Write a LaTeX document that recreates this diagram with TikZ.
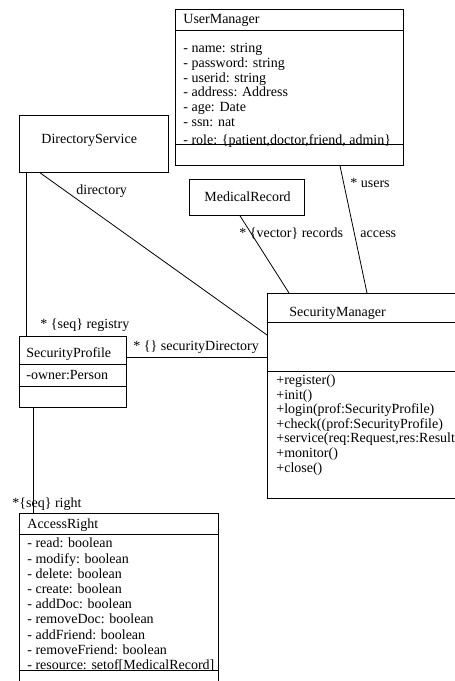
\documentclass[tikz,border=0pt]{standalone}
\usepackage{fontspec}
\setmainfont{Liberation Serif}
\usetikzlibrary{positioning}

\begin{document}
\begin{tikzpicture}[
x=1pt, y=-1pt, line width=0.8pt,
classbox/.style={rectangle, draw, inner sep=0pt, anchor=north west},
txt/.style={inner sep=0pt, anchor=base west, font=\fontsize{14}{14}\selectfont},
attr/.style={inner sep=0pt, anchor=north west, text height=10pt, text depth=#1, font=\fontsize{14}{14}\selectfont},
attr/.default=4pt,
nextline/.style={below=0pt of #1.south west, anchor=north west},
]
\clip (0,0) rectangle (455,681);

%Classes
\node[classbox, minimum width=228pt, minimum height=156pt] (um) at (175,9) {};
\node[classbox, minimum width=149pt, minimum height=57pt]  (ds) at (19,115) {};
\node[classbox, minimum width=115pt, minimum height=36pt]  (mr) at (189,179) {};
\node[classbox, minimum width=205pt, minimum height=205pt] (sm) at (267,293) {};
\node[classbox, minimum width=107pt, minimum height=71pt]  (sp) at (19,336) {};
\node[classbox, minimum width=199pt, minimum height=190pt] (ar) at (19,513) {};

%Compartments
\draw ([yshift=-21pt]um.north west) -- ([yshift=-21pt]um.north east);
\draw ([yshift=-135pt]um.north west) -- ([yshift=-135pt]um.north east);
\draw ([yshift=-29pt]sm.north west) -- ([yshift=-29pt]sm.north east);
\draw ([yshift=-78pt]sm.north west) -- ([yshift=-78pt]sm.north east);
\draw ([yshift=-28pt]sp.north west) -- ([yshift=-28pt]sp.north east);
\draw ([yshift=-50pt]sp.north west) -- ([yshift=-50pt]sp.north east);
\draw ([yshift=-21pt]ar.north west) -- ([yshift=-21pt]ar.north east);
\draw ([yshift=-157pt]ar.north west) -- ([yshift=-157pt]ar.north east);

%Names
\node[txt] (umname) at (183,23)  {UserManager};
\node[txt] (dsname) at (41,143)  {DirectoryService};
\node[txt] (mrname) at (204,201) {MedicalRecord};
\node[txt] (smname) at (289,316) {SecurityManager};
\node[txt] (spname) at (26,357)  {SecurityProfile};
\node[txt] (arname) at (27,528)  {AccessRight};

%UserManager
\node[attr] (um1) at (183,42) {- name: string};
\node[attr, nextline=um1] (um2) {- password: string};
\node[attr, nextline=um2] (um3) {- userid: string};
\node[attr, nextline=um3] (um4) {- address: Address};
\node[attr, nextline=um4] (um5) {- age: Date};
\node[attr, nextline=um5] (um6) {- ssn: nat};
\node[attr, below=3pt of um6.south west, anchor=north west] (um7) {- role: \{patient,doctor,friend, admin\}};

%SecurityManager
\node[attr=3.8pt] (sm1) at (276,374) {+register()};
\node[attr=3.8pt, nextline=sm1] (sm2) {+init()};
\node[attr=3.8pt, nextline=sm2] (sm3) {+login(prof:SecurityProfile)};
\node[attr=3.8pt, nextline=sm3] (sm4) {+check((prof:SecurityProfile)};
\node[attr=3.8pt, nextline=sm4] (sm5) {+service(req:Request,res:Result)};
\node[attr=3.8pt, nextline=sm5] (sm6) {+monitor()};
\node[attr=3.8pt, nextline=sm6] (sm7) {+close()};

%SecurityProfile
\node[txt] (sp1) at (26,379) {-owner:Person};

%AccessRight
\node[attr=4.4pt] (ar1) at (27,537.5) {- read: boolean};
\node[attr=4.4pt, nextline=ar1] (ar2) {- modify: boolean};
\node[attr=4.4pt, nextline=ar2] (ar3) {- delete: boolean};
\node[attr=4.4pt, nextline=ar3] (ar4) {- create: boolean};
\node[attr=4.4pt, nextline=ar4] (ar5) {- addDoc: boolean};
\node[attr=4.4pt, nextline=ar5] (ar6) {- removeDoc: boolean};
\node[attr=4.4pt, nextline=ar6] (ar7) {- addFriend: boolean};
\node[attr=4.4pt, nextline=ar7] (ar8) {- removeFriend: boolean};
\node[attr=4.4pt, nextline=ar8] (ar9) {- resource: setof[MedicalRecord]};

%Lines
\draw ([xshift=7pt]ds.south west) -- ([xshift=7pt]sp.north west);
\draw ([xshift=21pt]ds.south west) -- ([yshift=-42pt]sm.north west);
\draw ([xshift=51pt]mr.south west) -- ([xshift=22pt]sm.north west);
\draw ([xshift=165pt]um.south west) -- ([xshift=100pt]sm.north west);
\draw ([yshift=-21pt]sp.north east) -- ([yshift=-64pt]sm.north west);
\draw ([xshift=14pt]sp.south west) -- ([xshift=14pt]ar.north west);

%Roles
\node[txt] (dirrole)  at (76,194)  {directory};
\node[txt] (userrole) at (350,187) {* users};
\node[txt] (accrole)  at (360,237) {access};
\node[txt] (recrole)  at (239,237) {* \{vector\} records};
\node[txt] (regrole)  at (40,328)  {* \{seq\} registry};
\node[txt] (secrole)  at (133,350) {* \{\} securityDirectory};
\node[txt] (rightrole) at (12,507) {*\{seq\} right};

\end{tikzpicture}
\end{document}
